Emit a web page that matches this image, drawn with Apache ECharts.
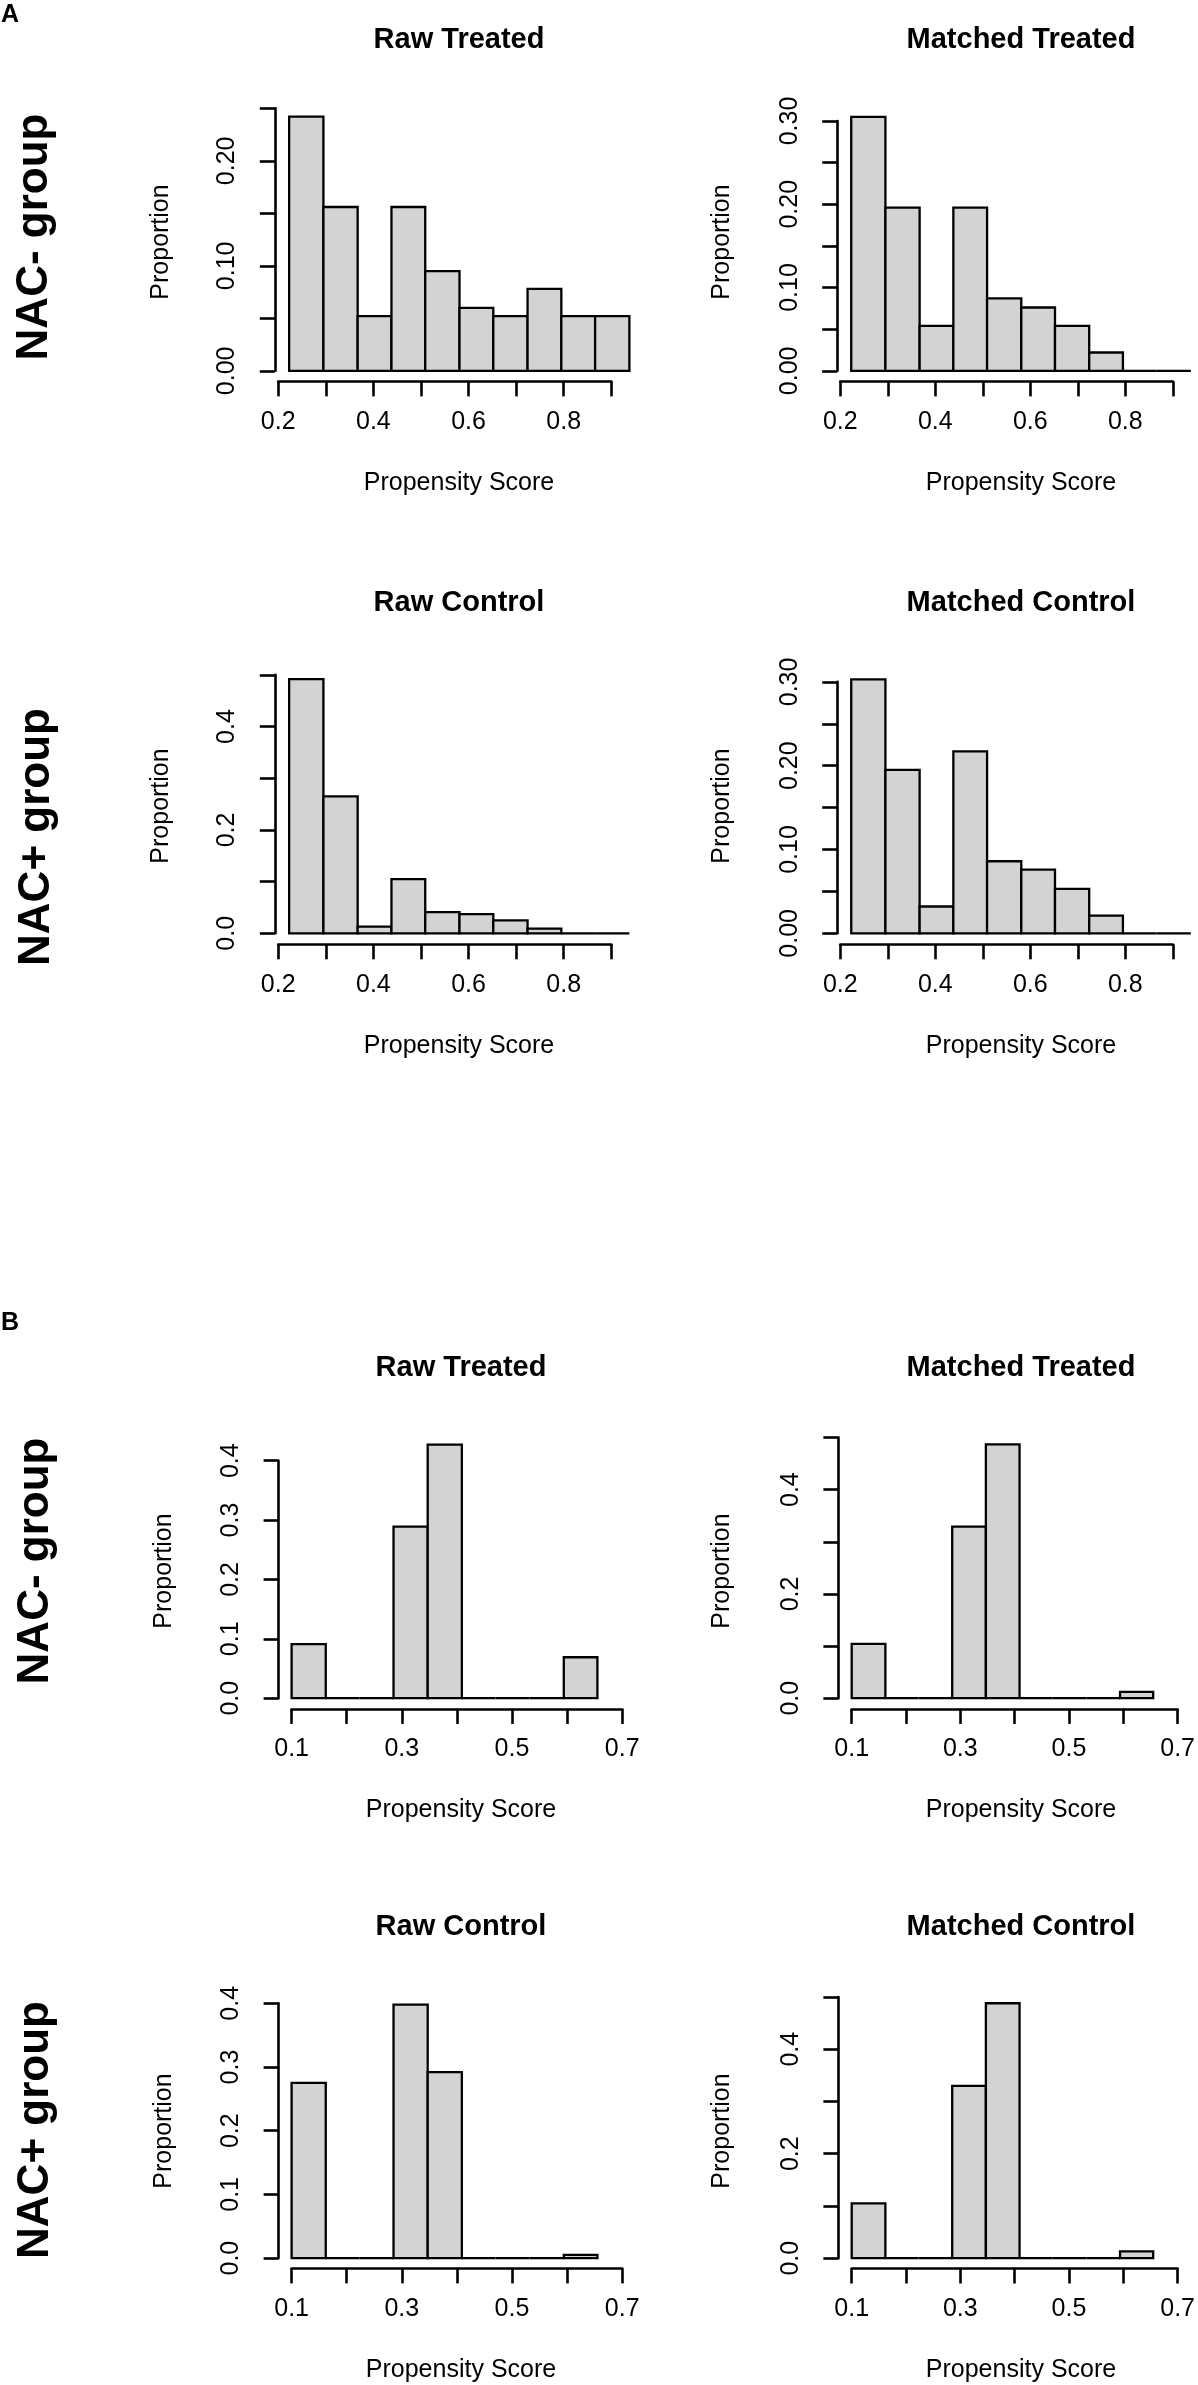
<!doctype html>
<html>
<head>
<meta charset="UTF-8">
<title>Propensity Score histograms</title>
<script type="text/javascript" src="https://cdn.jsdelivr.net/npm/echarts@6.0.0/dist/echarts.min.js"></script>
<style>
html, body { margin: 0; padding: 0; background: #ffffff; }
#main { width: 1198px; height: 2385px; }
</style>
</head>
<body>
<div id="main"></div>
<script type="text/javascript">
// bin edges on the propensity score axis
var breaksA = [0.223, 0.295, 0.367, 0.438, 0.509, 0.581, 0.652, 0.724, 0.795, 0.866, 0.938];
var breaksB = [0.100, 0.162, 0.223, 0.285, 0.347, 0.409, 0.470, 0.532, 0.594, 0.655];

// proportion in each bin
var rawTreatedA     = [0.242, 0.156, 0.052, 0.156, 0.095, 0.060, 0.052, 0.078, 0.052, 0.052];
var matchedTreatedA = [0.305, 0.196, 0.054, 0.196, 0.087, 0.076, 0.054, 0.022, 0, 0];
var rawControlA     = [0.492, 0.265, 0.013, 0.105, 0.041, 0.037, 0.025, 0.009, 0, 0];
var matchedControlA = [0.303, 0.195, 0.032, 0.217, 0.086, 0.076, 0.053, 0.021, 0, 0];
var rawTreatedB     = [0.091, 0, 0, 0.289, 0.427, 0, 0, 0, 0.069];
var matchedTreatedB = [0.104, 0, 0, 0.329, 0.487, 0, 0, 0, 0.012];
var rawControlB     = [0.275, 0, 0, 0.398, 0.292, 0, 0, 0, 0.005];
var matchedControlB = [0.105, 0, 0, 0.330, 0.488, 0, 0, 0, 0.013];

// tick labels that are printed
var xLabelsA = ['0.2', '0.4', '0.6', '0.8'];
var xLabelsB = ['0.1', '0.3', '0.5', '0.7'];
var yLabels025 = ['0.00', '0.10', '0.20'];
var yLabels030 = ['0.00', '0.10', '0.20', '0.30'];
var yLabels04 = ['0.0', '0.1', '0.2', '0.3', '0.4'];
var yLabels05 = ['0.0', '0.2', '0.4'];

var FONT = '"Liberation Sans", Arial, Helvetica, sans-serif';
var INK = '#000000';

// one entry per histogram: axis ranges + where the plot sits on the page
var panels = [
  {title: 'Raw Treated', breaks: breaksA, values: rawTreatedA, xMin: 0.2, xMax: 0.9, yMax: 0.25, yStep: 0.05,
   xLabels: xLabelsA, yLabels: yLabels025, box: [278.2, 108.3, 333.1, 262.5], yOff: 3.4, xOff: 10.6,
   cx: 459, titleY: 40, nameX: 161, nameY: 242},
  {title: 'Matched Treated', breaks: breaksA, values: matchedTreatedA, xMin: 0.2, xMax: 0.9, yMax: 0.30, yStep: 0.05,
   xLabels: xLabelsA, yLabels: yLabels030, box: [840.3, 121.0, 332.5, 249.8], yOff: 3.1, xOff: 10.6,
   cx: 1021, titleY: 40, nameX: 722, nameY: 242},
  {title: 'Raw Control', breaks: breaksA, values: rawControlA, xMin: 0.2, xMax: 0.9, yMax: 0.5, yStep: 0.1,
   xLabels: xLabelsA, yLabels: yLabels05, box: [278.2, 674.9, 333.1, 258.4], yOff: 3.4, xOff: 11,
   cx: 459, titleY: 603, nameX: 161, nameY: 806},
  {title: 'Matched Control', breaks: breaksA, values: matchedControlA, xMin: 0.2, xMax: 0.9, yMax: 0.30, yStep: 0.05,
   xLabels: xLabelsA, yLabels: yLabels030, box: [840.3, 681.9, 332.5, 251.4], yOff: 3.1, xOff: 11,
   cx: 1021, titleY: 603, nameX: 722, nameY: 806},
  {title: 'Raw Treated', breaks: breaksB, values: rawTreatedB, xMin: 0.1, xMax: 0.7, yMax: 0.4, yStep: 0.1,
   xLabels: xLabelsB, yLabels: yLabels04, box: [291.6, 1460.7, 330.6, 237.5], yOff: 13, xOff: 10.7,
   cx: 461, titleY: 1368, nameX: 164, nameY: 1571},
  {title: 'Matched Treated', breaks: breaksB, values: matchedTreatedB, xMin: 0.1, xMax: 0.7, yMax: 0.5, yStep: 0.1,
   xLabels: xLabelsB, yLabels: yLabels05, box: [851.7, 1437.5, 329.4, 260.7], yOff: 13.3, xOff: 10.7,
   cx: 1021, titleY: 1368, nameX: 722, nameY: 1571},
  {title: 'Raw Control', breaks: breaksB, values: rawControlB, xMin: 0.1, xMax: 0.7, yMax: 0.4, yStep: 0.1,
   xLabels: xLabelsB, yLabels: yLabels04, box: [291.6, 2003.3, 330.6, 254.8], yOff: 13, xOff: 10.3,
   cx: 461, titleY: 1927, nameX: 164, nameY: 2131},
  {title: 'Matched Control', breaks: breaksB, values: matchedControlB, xMin: 0.1, xMax: 0.7, yMax: 0.5, yStep: 0.1,
   xLabels: xLabelsB, yLabels: yLabels05, box: [851.7, 1997.0, 329.4, 261.2], yOff: 13.3, xOff: 10.3,
   cx: 1021, titleY: 1927, nameX: 722, nameY: 2131}
];

function labelFilter(labels) {
  var dec = labels[0].split('.')[1].length;
  return function (v) {
    var s = v.toFixed(dec);
    return labels.indexOf(s) >= 0 ? s : '';
  };
}

// histogram bar: rect from the bin edges, flat line for empty bins (like R hist)
function renderBin(params, api) {
  var a = api.coord([api.value(0), 0]);
  var b = api.coord([api.value(1), api.value(2)]);
  if (api.value(2) === 0) {
    return {type: 'line', shape: {x1: a[0], y1: a[1], x2: b[0], y2: a[1]},
            style: {stroke: INK, lineWidth: 2.3}};
  }
  return {type: 'rect',
          shape: {x: a[0], y: b[1], width: b[0] - a[0], height: a[1] - b[1]},
          style: {fill: '#d3d3d3', stroke: INK, lineWidth: 2.3}};
}

function textEl(str, x, y, size, bold, rot, align) {
  return {type: 'text', x: x, y: y, rotation: rot || 0, silent: true,
          style: {text: str, fill: INK, font: (bold ? 'bold ' : '') + size + 'px ' + FONT,
                  align: align || 'center', verticalAlign: 'middle',
                  textAlign: align || 'center', textVerticalAlign: 'middle'}};
}

var grids = [], xAxes = [], yAxes = [], series = [], texts = [];
panels.forEach(function (p, i) {
  grids.push({left: p.box[0], top: p.box[1], width: p.box[2], height: p.box[3], containLabel: false});
  xAxes.push({
    gridIndex: i, type: 'value', min: p.xMin, max: p.xMax, interval: 0.1, offset: p.xOff,
    axisLine: {show: true, onZero: false, lineStyle: {color: INK, width: 2.6}},
    axisTick: {show: true, length: 15, lineStyle: {color: INK, width: 2.6}},
    axisLabel: {margin: 28, fontSize: 25, color: INK, fontFamily: FONT,
                showMinLabel: true, showMaxLabel: true, formatter: labelFilter(p.xLabels)},
    splitLine: {show: false}
  });
  yAxes.push({
    gridIndex: i, type: 'value', min: 0, max: p.yMax, interval: p.yStep, offset: p.yOff,
    axisLine: {show: true, onZero: false, lineStyle: {color: INK, width: 2.6}},
    axisTick: {show: true, length: 15, lineStyle: {color: INK, width: 2.6}},
    axisLabel: {margin: 35, fontSize: 25, color: INK, fontFamily: FONT, rotate: 90,
                showMinLabel: true, showMaxLabel: true, formatter: labelFilter(p.yLabels)},
    splitLine: {show: false}
  });
  var bins = [];
  for (var k = 0; k < p.values.length; k++) {
    bins.push([p.breaks[k], p.breaks[k + 1], p.values[k]]);
  }
  series.push({type: 'custom', xAxisIndex: i, yAxisIndex: i, clip: false, silent: true,
               renderItem: renderBin, encode: {x: [0, 1], y: 2}, data: bins});
  texts.push(textEl(p.title, p.cx, p.titleY, 29, true));
  texts.push(textEl('Propensity Score', p.cx, p.box[1] + p.box[3] + p.xOff + 101.6, 25, false));
  texts.push(textEl('Proportion', p.nameX, p.nameY, 25, false, Math.PI / 2));
});

// panel letters and row labels
texts.push(textEl('A', 1, 15, 25, true, 0, 'left'));
texts.push(textEl('B', 1, 1323, 25, true, 0, 'left'));
texts.push(textEl('NAC- group', 35, 237, 44, true, Math.PI / 2));
texts.push(textEl('NAC+ group', 37, 837, 44, true, Math.PI / 2));
texts.push(textEl('NAC- group', 36, 1561, 44, true, Math.PI / 2));
texts.push(textEl('NAC+ group', 36, 2130, 44, true, Math.PI / 2));

var chart = echarts.init(document.getElementById('main'), null, {renderer: 'canvas'});
chart.setOption({
  animation: false,
  backgroundColor: '#ffffff',
  grid: grids,
  xAxis: xAxes,
  yAxis: yAxes,
  series: series,
  graphic: {elements: texts}
});
</script>
</body>
</html>
